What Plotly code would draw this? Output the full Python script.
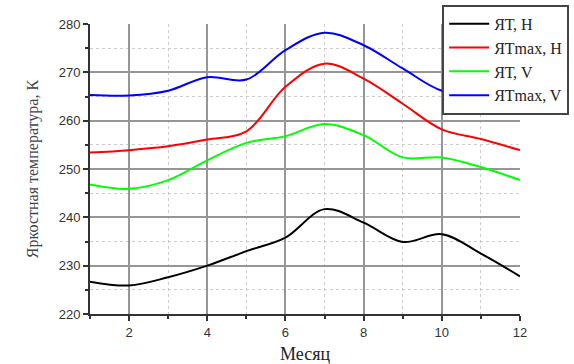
import plotly.graph_objects as go

months = [1, 2, 3, 4, 5, 6, 7, 8, 9, 10, 11, 12]
yt_h = [226.7, 225.9, 227.6, 230.0, 233.0, 235.8, 241.7, 238.9, 234.9, 236.5, 232.5, 227.8]
ytmax_h = [253.4, 253.9, 254.7, 256.1, 257.8, 267.0, 271.8, 268.7, 263.5, 258.2, 256.2, 253.9]
yt_v = [246.8, 245.9, 247.7, 251.8, 255.4, 256.8, 259.3, 257.0, 252.4, 252.4, 250.4, 247.7]
ytmax_v = [265.3, 265.2, 266.2, 269.0, 268.5, 274.6, 278.2, 275.6, 270.8, 266.2, 265.5, 264.3]

names = ["ЯТ, H", "ЯТmax, H", "ЯТ, V", "ЯТmax, V"]
colors = ["#000000", "#ff0000", "#00ff00", "#0000ff"]
series = [yt_h, ytmax_h, yt_v, ytmax_v]

fig = go.Figure()
for n, c, s in zip(names, colors, series):
    fig.add_trace(go.Scatter(x=months, y=s, name=n, mode="lines",
                             line=dict(color=c, width=2, shape="spline", smoothing=1.0)))

axis_common = dict(
    showline=True, linecolor="#333333", linewidth=2,
    ticks="outside", ticklen=5, tickwidth=1.5, tickcolor="#333333",
    showgrid=True, gridcolor="#969696", gridwidth=1.5,
    tickfont=dict(family="Liberation Sans, Arial", size=13, color="#333333"),
    zeroline=False, mirror=False, automargin=False,
)

fig.update_xaxes(range=[1, 12], tick0=0, dtick=2,
                 minor=dict(dtick=1, ticks="outside", ticklen=3, tickcolor="#333333",
                            showgrid=True, gridcolor="#cccccc", griddash="dot", gridwidth=1),
                 title=dict(text="Месяц", font=dict(family="Liberation Serif, Times New Roman", size=18, color="#222222"),
                            standoff=10),
                 **axis_common)
fig.update_yaxes(range=[220, 280], tick0=220, dtick=10,
                 minor=dict(dtick=5, ticks="outside", ticklen=3, tickcolor="#333333",
                            showgrid=True, gridcolor="#cccccc", griddash="dot", gridwidth=1),
                 title=dict(text="Яркостная температура, К", font=dict(family="Liberation Serif, Times New Roman", size=16, color="#444444"),
                            standoff=16),
                 **axis_common)

fig.update_layout(
    width=574, height=364,
    margin=dict(l=90, r=54, t=24, b=50, autoexpand=False),
    plot_bgcolor="white", paper_bgcolor="white",
    showlegend=True,
    legend=dict(x=0.819, y=1.066, xanchor="left", yanchor="top",
                bgcolor="white", bordercolor="#444444", borderwidth=2,
                font=dict(family="Liberation Serif, Times New Roman", size=16, color="#222222"),
                tracegroupgap=0, itemwidth=40),
)

fig.write_html("out.html")
